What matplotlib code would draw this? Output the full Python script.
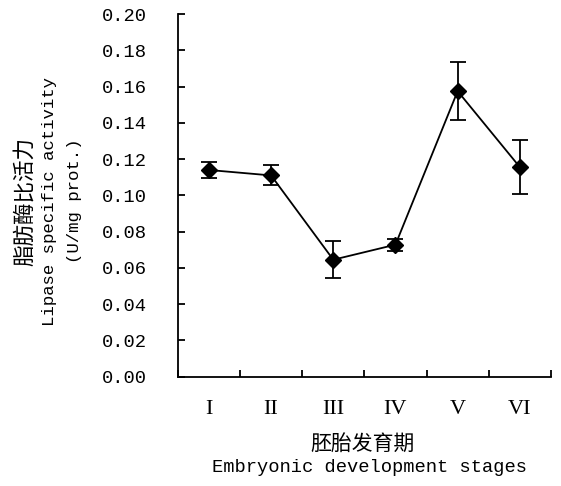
import numpy as np
import matplotlib.pyplot as plt
from matplotlib.ticker import FixedLocator, NullFormatter

stages = ["I", "II", "III", "IV", "V", "VI"]
activity = [0.114, 0.111, 0.0645, 0.0728, 0.1575, 0.1156]
errors = [0.0045, 0.0055, 0.0103, 0.0034, 0.0158, 0.0148]
y_ticks = [0.00, 0.02, 0.04, 0.06, 0.08, 0.10, 0.12, 0.14, 0.16, 0.18, 0.20]

cjk = ["Noto Sans CJK SC", "DejaVu Sans"]
mono = "Liberation Mono"
serif = "Liberation Serif"

fig = plt.figure(figsize=(5.61, 4.86), dpi=100)
ax = fig.add_axes([0.317, 0.225, 0.665, 0.746])

x = np.arange(len(stages)) + 0.5
ax.errorbar(x, activity, yerr=errors, color="black", lw=1.3, marker="D",
            markersize=8, capsize=6, capthick=1.3, elinewidth=1.3)

ax.set_xlim(0, len(stages))
ax.set_ylim(0, 0.2)
ax.spines["top"].set_visible(False)
ax.spines["right"].set_visible(False)
for s in ["left", "bottom"]:
    ax.spines[s].set_linewidth(1.3)

# major ticks between categories, labels centred on categories
ax.xaxis.set_major_locator(FixedLocator(np.arange(len(stages) + 1)))
ax.xaxis.set_major_formatter(NullFormatter())
ax.xaxis.set_minor_locator(FixedLocator(x))
ax.set_xticklabels(stages, minor=True, fontfamily=serif, fontsize=16)
ax.tick_params(axis="x", which="major", direction="in", length=5, width=1.3)
ax.tick_params(axis="x", which="minor", length=0, pad=17)

ax.set_yticks(y_ticks)
ax.set_yticklabels(["%.2f" % v for v in y_ticks], fontfamily=mono, fontsize=13.5)
ax.tick_params(axis="y", direction="in", length=5, width=1.3, pad=22)

# axis titles
fig.text(25 / 561, 1 - 201 / 486, "脂肪酶比活力", rotation=90, ha="center",
         va="center", family=cjk, fontsize=15.5)
fig.text(50 / 561, 1 - 201 / 486, "Lipase specific activity", rotation=90,
         ha="center", va="center", family=mono, fontsize=12.5)
fig.text(75 / 561, 1 - 201 / 486, "(U/mg prot.)", rotation=90, ha="center",
         va="center", family=mono, fontsize=12.5)
fig.text(363 / 561, 1 - 444 / 486, "胚胎发育期", ha="center", va="center",
         family=cjk, fontsize=15)
fig.text(369 / 561, 1 - 467 / 486, "Embryonic development stages", ha="center",
         va="center", family=mono, fontsize=13.5)

fig.savefig("out.png", dpi=100)
